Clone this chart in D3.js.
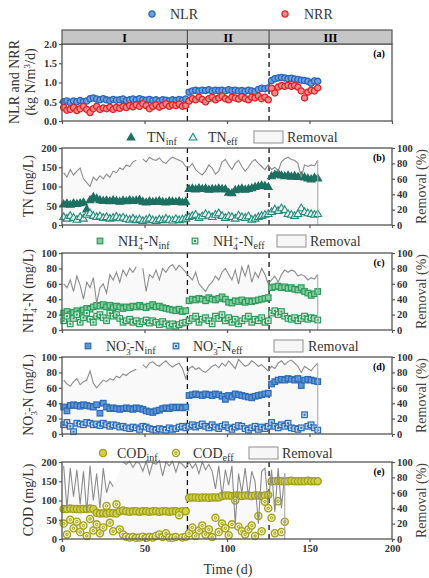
<!DOCTYPE html>
<html><head><meta charset="utf-8">
<script src="https://cdn.jsdelivr.net/npm/d3@7"></script>
<style>
body{margin:0;background:#fff}
svg{display:block}
</style>
</head><body>
<svg id="c" width="429" height="578" font-family="'Liberation Serif', 'Times New Roman', serif"></svg>
<script>
// ---------- data (sampled every 2 days) ----------
const days=[1,3,5,7,9,11,13,15,17,19,21,23,25,27,29,31,33,35,37,39,41,43,45,47,49,51,53,55,57,59,61,63,65,67,69,71,73,75,
77,79,81,83,85,87,89,91,93,95,97,99,101,103,105,107,109,111,113,115,117,119,121,123,125,
127,129,131,133,135,137,139,141,143,145,147,149,151,153,155];
const phaseLabels=["I","II","III"];
const phaseBounds=[0,76,125.5,200];
const xTicks=[0,50,100,150,200];

const NLR=[0.50,0.52,0.48,0.52,0.50,0.53,0.50,0.52,0.58,0.60,0.57,0.55,0.58,0.55,0.53,0.56,0.54,0.55,0.57,0.53,0.55,0.57,0.55,0.58,0.55,0.54,0.56,0.53,0.55,0.52,0.55,0.54,0.52,0.55,0.53,0.56,0.54,0.57,
0.75,0.78,0.80,0.78,0.80,0.79,0.81,0.78,0.80,0.79,0.80,0.78,0.81,0.79,0.80,0.78,0.79,0.77,0.80,0.78,0.76,0.82,0.85,0.84,0.86,
1.05,1.10,1.12,1.13,1.12,1.10,1.11,1.09,1.08,1.06,1.05,1.03,0.98,1.04,1.03];
const NRR=[0.35,0.28,0.30,0.35,0.27,0.32,0.38,0.30,0.22,0.32,0.38,0.30,0.34,0.32,0.36,0.30,0.35,0.33,0.38,0.35,0.40,0.37,0.42,0.38,0.45,0.40,0.32,0.38,0.42,0.36,0.40,0.45,0.38,0.42,0.40,0.44,0.38,0.40,
0.52,0.58,0.55,0.62,0.56,0.50,0.58,0.62,0.55,0.60,0.65,0.58,0.55,0.62,0.60,0.57,0.63,0.58,0.55,0.62,0.60,0.65,0.58,0.62,0.55,
0.85,0.73,0.88,0.92,0.90,0.93,0.90,0.92,0.88,0.78,0.60,0.75,0.80,0.78,0.86];

const TNinf=[55,57,54,58,56,58,60,42,66,74,70,66,64,65,63,66,64,62,65,63,66,64,65,67,62,60,63,61,62,64,61,60,63,62,61,63,60,62,
95,96,94,97,95,96,93,95,94,96,95,94,85,84,92,94,96,93,95,97,100,102,104,103,100,
128,132,135,130,128,130,127,129,126,128,125,122,120,124,122];
const TNeff=[22,18,25,20,15,22,18,28,32,25,22,24,20,22,18,20,23,19,21,17,15,18,14,16,12,15,18,14,12,16,14,18,15,13,17,14,16,18,
22,25,28,20,24,30,26,22,28,32,25,20,24,22,18,26,22,20,24,15,18,22,25,28,30,
35,42,38,45,40,30,28,25,30,45,35,32,30,28,30];
const TNrem=[68,62,72,65,70,74,60,55,50,62,58,64,60,66,62,70,68,74,72,78,76,82,84,null,86,82,88,85,84,87,82,80,85,88,86,84,82,76,
75,80,72,68,65,70,78,74,66,70,82,85,78,72,80,84,76,70,75,82,85,80,76,72,78,
72,75,70,82,86,88,85,84,80,62,78,76,78,77,84];

const NH4inf=[22,24,20,23,25,22,26,28,27,30,32,31,33,30,32,29,31,30,28,30,29,31,30,32,30,29,31,33,30,31,29,28,27,26,25,27,24,25,
38,40,39,41,40,38,42,40,39,41,43,40,36,35,38,37,39,36,38,37,38,39,40,41,42,
55,56,57,55,56,54,55,53,52,55,50,48,45,47,50];
const NH4eff=[12,18,8,15,20,10,16,22,14,10,18,20,16,12,22,18,20,15,10,12,14,10,12,8,11,13,9,12,10,7,11,8,6,8,5,7,9,10,
12,15,18,10,14,16,12,8,18,15,20,12,16,10,14,8,12,15,18,10,14,12,16,10,12,
22,25,20,24,18,15,14,16,12,15,18,14,16,15,13];
const NH4rem=[60,55,65,50,70,58,40,62,55,68,35,55,60,48,72,65,75,62,78,70,80,75,82,null,80,50,72,68,78,65,80,75,82,85,78,84,80,75,
70,65,75,60,55,50,58,62,70,65,75,80,72,65,78,60,82,70,85,62,75,68,80,72,60,
65,70,62,72,78,75,78,76,70,72,70,65,68,66,72];

const NO3inf=[35,30,37,38,37,36,38,37,36,35,38,27,40,35,33,34,33,32,33,34,33,32,34,33,32,30,29,28,30,31,33,34,33,35,34,35,34,35,
50,51,52,51,50,52,51,50,52,51,49,45,50,48,52,51,50,49,48,47,49,50,51,52,53,
65,68,70,71,70,72,71,70,72,63,70,71,70,69,68];
const NO3eff=[12,15,10,3,14,13,12,15,14,12,13,11,14,12,10,12,11,9,10,8,7,9,8,6,10,9,7,6,5,7,6,5,8,6,7,9,10,8,
10,12,9,11,13,10,8,12,9,7,10,12,8,6,9,11,10,7,5,8,10,6,9,7,10,
15,10,8,12,10,14,8,7,6,8,25,10,12,8,5];
const NO3rem=[70,65,62,68,72,64,68,70,82,66,60,65,70,68,72,70,75,73,78,76,80,82,84,null,90,86,92,94,90,88,92,95,90,87,90,92,85,72,
85,88,84,86,82,80,84,88,90,86,92,88,95,90,85,97,92,88,90,95,92,88,90,86,82,
88,85,92,95,90,94,96,92,88,80,88,85,82,88,92];

const CODinf=[78,78,79,78,78,77,78,78,79,78,68,66,67,66,68,67,66,72,74,72,71,72,72,71,72,72,71,72,72,71,72,72,71,72,72,71,72,72,
107,108,108,107,108,108,107,108,108,108,112,113,113,112,113,113,112,113,113,112,113,113,112,113,114,
150,150,151,150,150,150,151,150,150,150,150,151,150,150,150];
const CODeff=[40,12,50,28,45,18,35,8,52,22,38,15,30,86,42,20,90,25,12,6,4,5,3,4,6,3,5,4,8,12,5,15,4,3,5,62,4,6,
15,30,8,22,35,12,25,5,55,18,40,28,10,38,100,32,20,12,25,35,8,60,20,97,80,
55,15,98,18,45,null,null,null,null,null,null,null,null,null,null];
const CODrem=[95,40,92,55,90,45,88,35,95,50,85,40,92,60,75,68,null,null,100,97,101,93,100,98,88,101,84,99,97,102,82,100,95,101,87,100,97,92,
100,92,98,85,100,90,97,88,65,95,55,90,70,95,20,85,60,92,55,88,75,20,88,92,45,
90,35,92,40,85,null,null,null,null,null,null,null,null,null,null];

// ---------- layout ----------
const FONT="'Liberation Serif', 'Times New Roman', Times, serif";
const svg=d3.select("#c");
const x=d3.scaleLinear().domain([0,200]).range([62,392]);
const H=77;
const AX="#555";
const REM="#8c8c8c";

function sym(type,size){return d3.symbol().type(type).size(size)();}

const styles={
  NLR:{kind:"circle",r:3.1,stroke:"#2a66b8",fill:"#6c9fdc"},
  NRR:{kind:"circle",r:3.1,stroke:"#df2326",fill:"#f08a8a"},
  TNinf:{kind:"tri",stroke:"#1d7061",fill:"#1d7061"},
  TNeff:{kind:"tri",stroke:"#268a7b",fill:"#e3f4f0"},
  NH4inf:{kind:"sq",stroke:"#2f9a5d",fill:"#82cf9d"},
  NH4eff:{kind:"sq",stroke:"#2f9a5d",fill:"#d3efdc",dot:true},
  NO3inf:{kind:"sq",stroke:"#2b6bb5",fill:"#5f95d5"},
  NO3eff:{kind:"sq",stroke:"#2b6bb5",fill:"#c7daf1",dot:true},
  CODinf:{kind:"circle",r:3.6,stroke:"#a3a01a",fill:"#cfcf50"},
  CODeff:{kind:"circle",r:3.6,stroke:"#a3a01a",fill:"#eeefb8",dot:true}
};

function drawMarker(g,st){
  if(st.kind==="circle"){
    g.append("circle").attr("r",st.r).attr("fill",st.fill).attr("stroke",st.stroke).attr("stroke-width",1.3);
    if(st.dot) g.append("circle").attr("r",1.2).attr("fill","none").attr("stroke",st.stroke).attr("stroke-width",1);
  } else if(st.kind==="tri"){
    g.append("path").attr("d",sym(d3.symbolTriangle,26)).attr("transform","translate(0,0.8)").attr("fill",st.fill).attr("stroke",st.stroke).attr("stroke-width",1.1);
  } else {
    g.append("rect").attr("x",-2.8).attr("y",-2.8).attr("width",5.6).attr("height",5.6).attr("fill",st.fill).attr("stroke",st.stroke).attr("stroke-width",1.2);
    if(st.dot) g.append("rect").attr("x",-1).attr("y",-1).attr("width",2).attr("height",2).attr("fill",st.stroke);
  }
}

function series(g,vals,y,st){
  const pts=days.map((d,i)=>({d,v:vals[i]})).filter(p=>p.v!=null);
  g.append("g").selectAll("g").data(pts).join("g")
    .attr("transform",p=>`translate(${x(p.d)},${y(p.v)})`)
    .each(function(){drawMarker(d3.select(this),st);});
}

const panels=[
  {id:"a",top:44,dom:[0,2],ticks:[0,0.5,1,1.5,2],fmt:d3.format(".1f"),s:[["NLR",NLR],["NRR",NRR]]},
  {id:"b",top:148,dom:[0,200],ticks:[0,50,100,150,200],fmt:d3.format("d"),s:[["TNinf",TNinf],["TNeff",TNeff]],rem:TNrem},
  {id:"c",top:253,dom:[0,100],ticks:[0,20,40,60,80,100],fmt:d3.format("d"),s:[["NH4inf",NH4inf],["NH4eff",NH4eff]],rem:NH4rem},
  {id:"d",top:357,dom:[0,100],ticks:[0,20,40,60,80,100],fmt:d3.format("d"),s:[["NO3inf",NO3inf],["NO3eff",NO3eff]],rem:NO3rem},
  {id:"e",top:462,dom:[0,200],ticks:[0,50,100,150,200],fmt:d3.format("d"),s:[["CODinf",CODinf],["CODeff",CODeff]],rem:CODrem}
];

function styleAxis(a){
  a.attr("font-family",null).attr("font-size",null);
  a.select(".domain").remove();
  a.selectAll(".tick line").attr("stroke",AX).attr("stroke-width",1.2);
  a.selectAll(".tick text").attr("font-weight","bold").attr("font-size","10.5px").attr("fill","#333");
}

panels.forEach((p,pi)=>{
  const g=svg.append("g");
  const y=d3.scaleLinear().domain(p.dom).range([p.top+H,p.top]);
  const yr=d3.scaleLinear().domain([0,100]).range([p.top+H,p.top]);
  let rp=null;
  if(p.rem){
    rp=days.map((d,i)=>({d,v:p.rem[i]}));
    g.append("path").datum(rp.filter(q=>q.v!=null)).attr("fill","#f9f9f9")
      .attr("d",d3.area().x(q=>x(q.d)).y0(yr(0)).y1(q=>yr(Math.min(q.v,100))));
  }
  [phaseBounds[1],phaseBounds[2]].forEach(b=>{
    g.append("line").attr("x1",x(b)).attr("x2",x(b)).attr("y1",p.top).attr("y2",p.top+H)
      .attr("stroke","#111").attr("stroke-width",1.3).attr("stroke-dasharray","5,4");
  });
  p.s.forEach(([k,v])=>series(g,v,y,styles[k]));
  if(p.rem){
    g.append("path").datum(rp).attr("fill","none").attr("stroke",REM).attr("stroke-width",1.1)
      .attr("d",d3.line().defined(q=>q.v!=null).x(q=>x(q.d)).y(q=>yr(q.v)));
    const last=rp.filter(q=>q.v!=null).pop();
    g.append("line").attr("x1",x(last.d)).attr("x2",x(last.d)).attr("y1",yr(last.v)).attr("y2",yr(0))
      .attr("stroke","#aaa").attr("stroke-width",1.1);
    const ar=g.append("g").attr("transform",`translate(392,0)`).call(d3.axisRight(yr).tickValues([0,20,40,60,80,100]).tickSize(3).tickPadding(2));
    styleAxis(ar);
  }
  g.append("rect").attr("x",62).attr("y",p.top).attr("width",330).attr("height",H)
    .attr("fill","none").attr("stroke",AX).attr("stroke-width",1.3);
  const al=g.append("g").attr("transform","translate(62,0)").call(d3.axisLeft(y).tickValues(p.ticks).tickFormat(p.fmt).tickSize(3).tickPadding(2));
  styleAxis(al);
  const ab=g.append("g").attr("transform",`translate(0,${p.top+H})`).call(d3.axisBottom(x).tickValues(xTicks).tickSize(3).tickPadding(3).tickFormat(p.id==="e"?d3.format("d"):""));
  styleAxis(ab);
  g.append("text").attr("x",379).attr("y",p.top+13).attr("text-anchor","middle").attr("font-size","10px").attr("font-weight","bold").text(`(${p.id})`);
  if(p.rem){
    g.append("text").attr("transform",`translate(426,${p.top+H/2}) rotate(-90)`).attr("text-anchor","middle").attr("font-size","14px").attr("fill","#444").text("Removal (%)");
  }
});

const hdr=svg.append("g");
hdr.append("rect").attr("x",62).attr("y",30).attr("width",330).attr("height",14).attr("fill","#c6c6c6").attr("stroke",AX).attr("stroke-width",1.2);
[phaseBounds[1],phaseBounds[2]].forEach(b=>hdr.append("line").attr("x1",x(b)).attr("x2",x(b)).attr("y1",30).attr("y2",44).attr("stroke",AX).attr("stroke-width",1.2));
phaseLabels.forEach((l,i)=>hdr.append("text").attr("x",x((phaseBounds[i]+phaseBounds[i+1])/2)).attr("y",41.5)
  .attr("text-anchor","middle").attr("font-size","12px").attr("font-weight","bold").text(l));

function ytitle(cx,cy,build){
  const t=svg.append("text").attr("transform",`translate(${cx},${cy}) rotate(-90)`).attr("text-anchor","middle").attr("font-size","14px").attr("fill","#333");
  build(t);
}
ytitle(19,82,t=>t.text("NLR and NRR"));
ytitle(35,82,t=>{t.text("(kg N/m");t.append("tspan").attr("font-size","9px").attr("dy",-5).text("3");t.append("tspan").attr("dy",5).text("/d)");});
ytitle(33,186,t=>t.text("TN (mg/L)"));
ytitle(33,291,t=>{t.text("NH");t.append("tspan").attr("font-size","9px").attr("dy",4).text("4");t.append("tspan").attr("font-size","9px").attr("dy",-9).attr("dx",-4).text("+");t.append("tspan").attr("dy",5).text("-N (mg/L)");});
ytitle(33,395,t=>{t.text("NO");t.append("tspan").attr("font-size","9px").attr("dy",4).text("3");t.append("tspan").attr("font-size","9px").attr("dy",-9).attr("dx",-4).text("-");t.append("tspan").attr("dy",5).text("-N (mg/L)");});
ytitle(33,500,t=>t.text("COD (mg/L)"));

svg.append("text").attr("x",228).attr("y",574).attr("text-anchor","middle").attr("font-size","14px").attr("fill","#333").text("Time (d)");

function legMarker(cx,cy,k){const g=svg.append("g").attr("transform",`translate(${cx},${cy})`);drawMarker(g,styles[k]);}
function legText(tx,ty,main,sub){
  const t=svg.append("text").attr("x",tx).attr("y",ty).attr("font-size","14px").attr("fill","#333");
  t.append("tspan").text(main);
  if(sub){t.append("tspan").attr("font-size","10px").attr("dy",3).text(sub);}
}
function legRem(bx,by,tx){
  svg.append("rect").attr("x",bx).attr("y",by-6).attr("width",29).attr("height",12).attr("fill","#f6f6f6").attr("stroke","#999").attr("stroke-width",1.1);
  svg.append("text").attr("x",tx).attr("y",by+5).attr("font-size","14px").attr("fill","#333").text("Removal");
}
legMarker(152,14,"NLR"); legText(170,19,"NLR");
legMarker(285,14,"NRR"); legText(304,19,"NRR");

legMarker(131,137,"TNinf"); legText(147,142,"TN","inf");
legMarker(193,137,"TNeff"); legText(208,142,"TN","eff");
legRem(254,137,287);

function ionText(tx,ty,base,subN,supC,sub){
  const t=svg.append("text").attr("x",tx).attr("y",ty).attr("font-size","14px").attr("fill","#333");
  t.append("tspan").text(base);
  t.append("tspan").attr("font-size","9px").attr("dy",4).text(subN);
  t.append("tspan").attr("font-size","9px").attr("dy",-9).attr("dx",-4).text(supC);
  t.append("tspan").attr("dy",5).text("-N");
  t.append("tspan").attr("font-size","10px").attr("dy",3).text(sub);
}
legMarker(100,241,"NH4inf"); ionText(118,246,"NH","4","+","inf");
legMarker(195,241,"NH4eff"); ionText(213,246,"NH","4","+","eff");
legRem(277,241,310);

legMarker(88,346,"NO3inf"); ionText(106,351,"NO","3","-","inf");
legMarker(176,346,"NO3eff"); ionText(193,351,"NO","3","-","eff");
legRem(274,346,308);

legMarker(103,453,"CODinf"); legText(117,458,"COD","inf");
legMarker(176,453,"CODeff"); legText(193,458,"COD","eff");
legRem(249,453,282);

svg.selectAll("text").style("font-family",FONT);
</script>
</body></html>
